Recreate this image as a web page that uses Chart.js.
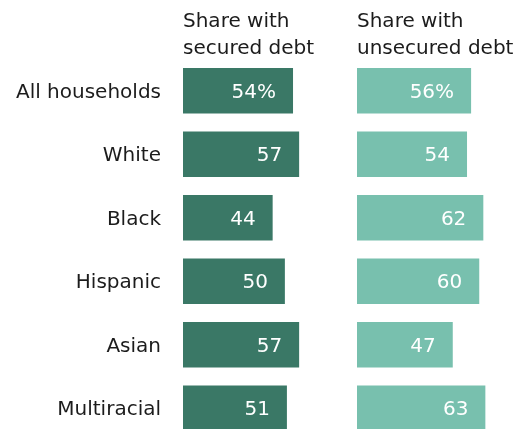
<!DOCTYPE html>
<html>
<head>
<meta charset="utf-8">
<script src="https://cdn.jsdelivr.net/npm/chart.js@4.4.1/dist/chart.umd.min.js"></script>
<style>
  html, body { margin: 0; padding: 0; background: #ffffff; overflow: hidden; width: 523px; height: 429px; }
  #wrap { position: relative; width: 523px; height: 429px; }
  .panel { position: absolute; top: 0; height: 440px; }
</style>
</head>
<body>
<div id="wrap">
  <div class="panel" style="left:0; width:346px;"><canvas id="securedChart"></canvas></div>
  <div class="panel" style="left:357px; width:166px;"><canvas id="unsecuredChart"></canvas></div>
</div>
<script>
// Household groups and the share (%) of each holding secured / unsecured debt
const groups = ['All households', 'White', 'Black', 'Hispanic', 'Asian', 'Multiracial'];
const securedShare = [54, 57, 44, 50, 57, 51];
const unsecuredShare = [56, 54, 62, 60, 47, 63];
const securedHeader = ['Share with', 'secured debt'];
const unsecuredHeader = ['Share with', 'unsecured debt'];

const FONT = 'DejaVu Sans';
const TEXT = '#1c1c1c';
const DARK = '#3a7866';
const LIGHT = '#78c0ae';

// White value labels drawn just inside the end of each bar
const valueLabels = {
  id: 'valueLabels',
  afterDatasetsDraw(chart) {
    const ctx = chart.ctx;
    const values = chart.data.datasets[0].data;
    ctx.save();
    ctx.font = '20px "' + FONT + '"';
    ctx.fillStyle = '#ffffff';
    ctx.textAlign = 'right';
    ctx.textBaseline = 'middle';
    chart.getDatasetMeta(0).data.forEach((bar, i) => {
      const txt = i === 0 ? values[i] + '%' : String(values[i]);
      ctx.fillText(txt, bar.x - 17, bar.y + 2);
    });
    ctx.restore();
  }
};

function makeChart(id, values, color, header, showGroups) {
  return new Chart(document.getElementById(id), {
    type: 'bar',
    data: {
      labels: groups,
      datasets: [{
        data: values,
        backgroundColor: color,
        borderWidth: 0,
        categoryPercentage: 1,
        barPercentage: 0.715
      }]
    },
    options: {
      indexAxis: 'y',
      responsive: true,
      maintainAspectRatio: false,
      animation: false,
      events: [],
      layout: { padding: { left: 0, right: showGroups ? 0 : 3, top: 0, bottom: 0 } },
      plugins: {
        legend: { display: false },
        tooltip: { enabled: false },
        title: {
          display: true,
          text: header,
          align: 'start',
          fullSize: false,
          color: TEXT,
          font: { family: FONT, size: 20, weight: 'normal', lineHeight: 1.35 },
          padding: { top: 8, bottom: -3 }
        }
      },
      scales: {
        x: { type: 'linear', min: 0, max: 80, display: false },
        y: {
          display: showGroups,
          grid: { display: false, drawTicks: false },
          border: { display: false },
          ticks: { color: TEXT, padding: 22, labelOffset: 2, font: { family: FONT, size: 20 } },
          afterFit: (s) => {
            if (showGroups) {
              // fixed gutter for the group names; no extra vertical margin
              s.width = 183;
              s.paddingTop = 0;
              s.paddingBottom = 0;
            }
          }
        }
      }
    },
    plugins: [valueLabels]
  });
}

makeChart('securedChart', securedShare, DARK, securedHeader, true);
makeChart('unsecuredChart', unsecuredShare, LIGHT, unsecuredHeader, false);
</script>
</body>
</html>
